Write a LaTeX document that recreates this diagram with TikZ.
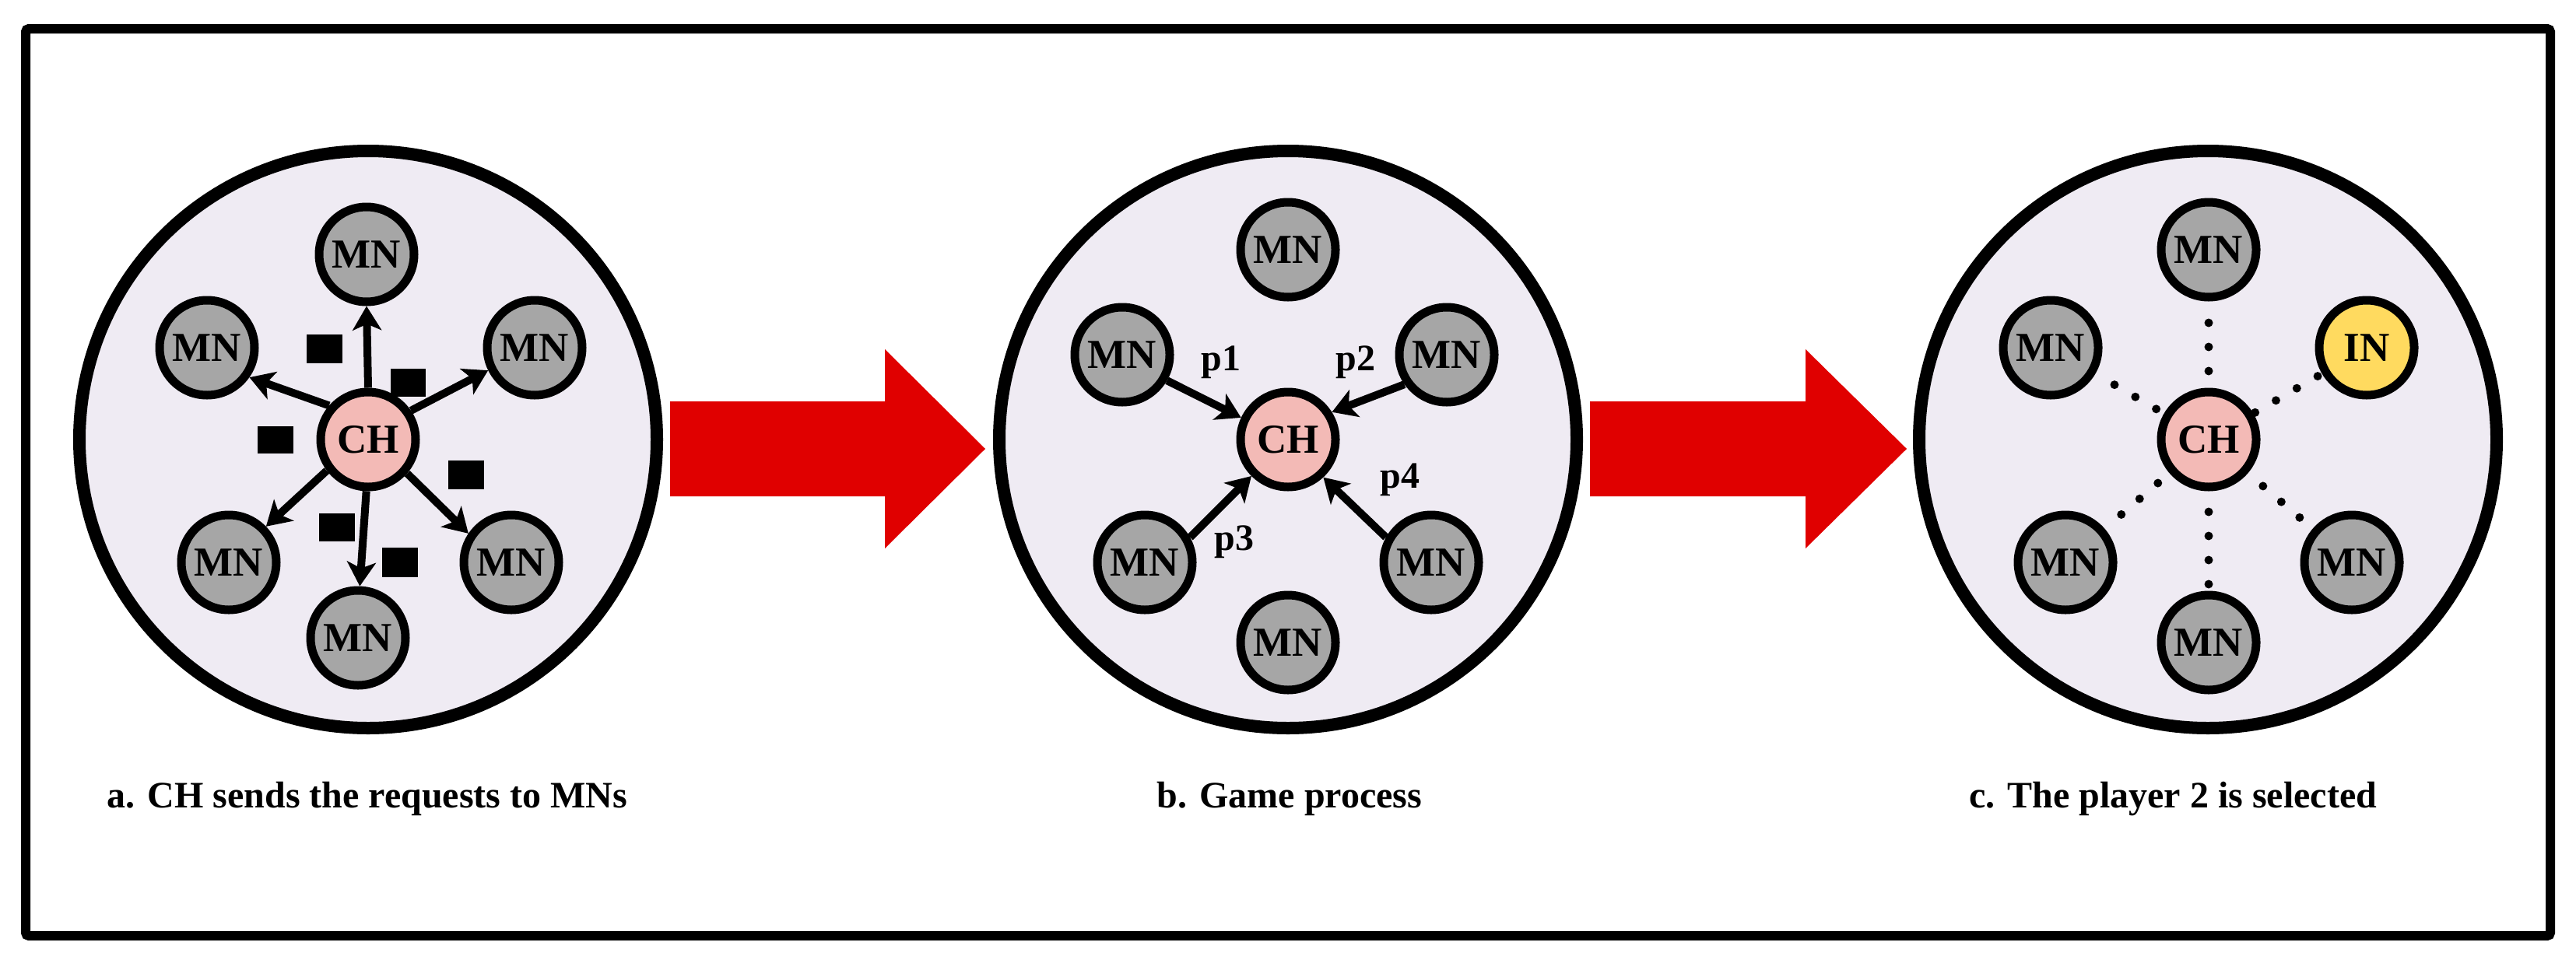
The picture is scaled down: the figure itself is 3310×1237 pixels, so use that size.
\documentclass[tikz,border=0pt]{standalone}
\usepackage{fontspec}
\setmainfont{Liberation Serif}
\usetikzlibrary{arrows.meta}
\definecolor{clusterfill}{HTML}{EFEBF3}
\definecolor{mngray}{HTML}{A6A6A6}
\definecolor{chpink}{HTML}{F3BAB6}
\definecolor{inyellow}{HTML}{FFDA5F}
\definecolor{bigred}{HTML}{E00000}
\begin{document}
\begin{tikzpicture}[x=1pt,y=-1pt,
  cluster/.style={circle, draw, line width=16pt, fill=clusterfill, minimum size=742pt, inner sep=0pt},
  member/.style={circle, draw, line width=11pt, fill=mngray, minimum size=122pt, inner sep=0pt, font=\fontsize{53}{60}\selectfont\bfseries},
  headnode/.style={member, fill=chpink},
  inode/.style={member, fill=inyellow},
  req/.style={line width=10pt, -{Stealth[length=31pt,width=37pt,inset=8pt]}},
  plabel/.style={inner sep=0pt, font=\fontsize{48}{56}\selectfont\bfseries},
  caption/.style={anchor=base, inner sep=0pt, font=\fontsize{48}{56}\selectfont\bfseries},
  dotline/.style={line width=11pt, line cap=round, dash pattern=on 0pt off 31pt},
  bigarrow/.style={fill=bigred}
]
\useasboundingbox (0,0) rectangle (3310,1237);
\draw[line width=12pt, rounded corners=4pt] (33,37) rectangle (3277,1203);

% ---------- panel a ----------
\node[cluster] (A) at (473,565) {};
\node[headnode] (cha) at (473,565) {CH};
\node[member] (maT)  at (471,327) {MN};
\node[member] (maUL) at (266,447) {MN};
\node[member] (maUR) at (687,447) {MN};
\node[member] (maLL) at (294,723) {MN};
\node[member] (maLR) at (657,723) {MN};
\node[member] (maB)  at (460,820) {MN};
\draw[req] (cha.90)  -- (maT.-90);
\draw[req] (cha.34)  -- (maUR.206);
\draw[req] (cha.139) -- (maUL.-35);
\draw[req] (cha.217) -- (maLL.44);
\draw[req] (cha.-92) -- (maB.88);
\draw[req] (cha.-41) -- (maLR.146);
\fill (394,430) rectangle (440,467);
\fill (502,474) rectangle (547,510);
\fill (331,548) rectangle (377,583);
\fill (576,592) rectangle (622,629);
\fill (410,660) rectangle (456,696);
\fill (491,704) rectangle (537,742);
\node[caption] (capa) at (472,1038) {a. CH sends the requests to MNs};

% ---------- arrow 1 ----------
\fill[bigarrow] (861,516) -- (1137,516) -- (1137,449) -- (1266,577) -- (1137,705) -- (1137,638) -- (861,638) -- cycle;

% ---------- panel b ----------
\node[cluster] (B) at (1655,565) {};
\node[headnode] (chb) at (1655,565) {CH};
\node[member] (mbT)  at (1655,321) {MN};
\node[member] (mbUL) at (1442,456) {MN};
\node[member] (mbUR) at (1859,456) {MN};
\node[member] (mbLL) at (1471,723) {MN};
\node[member] (mbLR) at (1839,723) {MN};
\node[member] (mbB)  at (1655,826) {MN};
\draw[req] (mbUL.-30) -- (chb.155);
\draw[req] (mbUR.215) -- (chb.32);
\draw[req] (mbLL.29)  -- (chb.-135);
\draw[req] (mbLR.151) -- (chb.-47);
\node[plabel] (p1) at (1569,466) {p1};
\node[plabel] (p2) at (1742,466) {p2};
\node[plabel] (p3) at (1586,697) {p3};
\node[plabel] (p4) at (1799,617) {p4};
\node[caption] (capb) at (1657,1038) {b. Game process};

% ---------- arrow 2 ----------
\fill[bigarrow] (2043,516) -- (2320,516) -- (2320,449) -- (2450,577) -- (2320,705) -- (2320,638) -- (2043,638) -- cycle;

% ---------- panel c ----------
\node[cluster] (C) at (2837,565) {};
\node[headnode] (chc) at (2838,565) {CH};
\node[member] (mcT)  at (2838,321) {MN};
\node[member] (mcUL) at (2635,447) {MN};
\node[inode]  (icUR) at (3041,447) {IN};
\node[member] (mcLL) at (2654,723) {MN};
\node[member] (mcLR) at (3022,723) {MN};
\node[member] (mcB)  at (2838,826) {MN};
\draw[dotline, shorten <=88pt, shorten >=93pt] (chc.center) -- (mcT.center);
\draw[dotline, shorten <=78pt, shorten >=94pt] (chc.center) -- (mcUL.center);
\draw[dotline, shorten <=69pt, shorten >=70pt] (chc.center) -- (icUR.center);
\draw[dotline, shorten <=86pt, shorten >=93pt] (chc.center) -- (mcLL.center);
\draw[dotline, shorten <=92pt, shorten >=86pt] (chc.center) -- (mcLR.center);
\draw[dotline, shorten <=93pt, shorten >=73pt] (chc.center) -- (mcB.center);
\node[caption] (capc) at (2792,1038) {c. The player 2 is selected};
\end{tikzpicture}
\end{document}
